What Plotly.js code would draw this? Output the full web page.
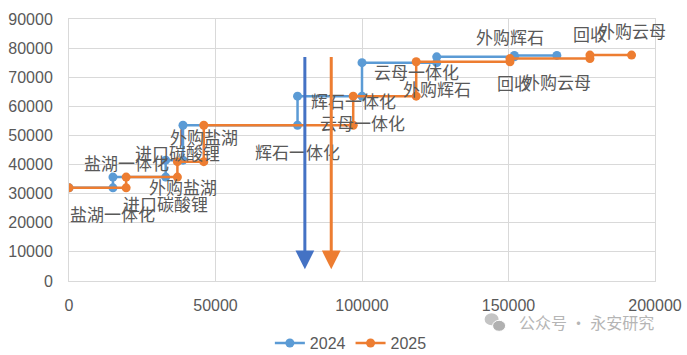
<!DOCTYPE html>
<html>
<head>
<meta charset="utf-8">
<script src="https://cdn.plot.ly/plotly-3.0.1.min.js"></script>
<style>html,body{margin:0;padding:0;background:#fff;}#chart{width:687px;height:355px;}</style>
</head>
<body>
<div id="chart"></div>
<script>
// Cost curve steps: category, cumulative capacity at step end, cost level
const categories = ['盐湖一体化','进口碳酸锂','外购盐湖','辉石一体化','云母一体化','外购辉石','回收','外购云母'];
const capEnd2024 = [15000, 33000, 38900, 78000, 100000, 125500, 152000, 166500];
const cost2024   = [32000, 35700, 41500, 53500, 63500, 75000, 77000, 77500];
const capEnd2025 = [19500, 37000, 46000, 97000, 118500, 150500, 177800, 192000];
const cost2025   = [32000, 35700, 41000, 53500, 63500, 75300, 76400, 77600];
// Demand arrows
const demand2024 = 80500;
const demand2025 = 89500;
const demandTop = 77500;
const demandTip = 4000;
const seriesNames = ['2024', '2025'];

function stepXY(ends, costs) {
  const xs = [], ys = [];
  let start = 0;
  for (let i = 0; i < ends.length; i++) {
    xs.push(start, ends[i]);
    ys.push(costs[i], costs[i]);
    start = ends[i];
  }
  return {xs, ys};
}

const BLUE = '#5B9BD5', ORANGE = '#ED7D31';
const s24 = stepXY(capEnd2024, cost2024);
const s25 = stepXY(capEnd2025, cost2025);

const traces = [
  {x: s24.xs, y: s24.ys, name: seriesNames[0], type: 'scatter', mode: 'lines+markers',
   line: {color: BLUE, width: 2.5}, marker: {color: BLUE, size: 9}},
  {x: s25.xs, y: s25.ys, name: seriesNames[1], type: 'scatter', mode: 'lines+markers',
   line: {color: ORANGE, width: 2.5}, marker: {color: ORANGE, size: 9}}
];

const labelFont = {family: 'Noto Sans CJK SC, sans-serif', size: 17, color: '#595959'};
const annotations = [];
categories.forEach((c, i) => {
  annotations.push({x: capEnd2024[i], y: cost2024[i], xref: 'x', yref: 'y', text: c,
    showarrow: false, yshift: -26, font: labelFont});
  annotations.push({x: capEnd2025[i], y: cost2025[i], xref: 'x', yref: 'y', text: c,
    showarrow: false, yshift: 25, font: labelFont});
});
[[demand2024, '#4472C4'], [demand2025, ORANGE]].forEach(([d, col]) => {
  annotations.push({x: d, y: demandTip, ax: d, ay: demandTop, xref: 'x', yref: 'y',
    axref: 'x', ayref: 'y', showarrow: true, arrowhead: 2, arrowsize: 1.25,
    arrowwidth: 3, arrowcolor: col, text: ''});
});
annotations.push({xref: 'paper', yref: 'paper', x: 0.765, y: -0.158, xanchor: 'left', yanchor: 'middle',
  text: '公众号 · 永安研究', showarrow: false,
  font: {family: 'Noto Sans CJK SC, sans-serif', size: 16, color: '#b5b5b5'}});

const layout = {
  width: 687, height: 355,
  margin: {l: 69, r: 32, t: 19, b: 74, autoexpand: false},
  paper_bgcolor: '#fff', plot_bgcolor: '#fff',
  font: {family: 'Liberation Sans, Noto Sans CJK SC, sans-serif', size: 16, color: '#595959'},
  xaxis: {range: [0, 200000], dtick: 50000, tick0: 0, showgrid: true, gridcolor: '#D9D9D9',
    zeroline: false, showline: true, mirror: true, linecolor: '#D9D9D9', ticks: '',
    tickformat: 'd', ticklabelstandoff: 10, tickfont: {size: 16, color: '#595959'}},
  yaxis: {range: [0, 90000], dtick: 10000, tick0: 0, showgrid: true, gridcolor: '#D9D9D9',
    zeroline: false, showline: true, mirror: true, linecolor: '#D9D9D9', ticks: '',
    tickformat: 'd', ticklabelstandoff: 12, tickfont: {size: 16, color: '#595959'}},
  showlegend: true,
  legend: {orientation: 'h', x: 0.481, xanchor: 'center', y: -0.237, yanchor: 'middle',
    font: {size: 16, color: '#595959'}, bgcolor: 'rgba(0,0,0,0)'},
  annotations: annotations,
  shapes: [
    {type: 'circle', xref: 'paper', yref: 'paper', xsizemode: 'pixel', ysizemode: 'pixel',
     xanchor: 0.728, yanchor: -0.15, x0: -11, x1: 3, y0: -5, y1: 7, fillcolor: '#c4c4c4', line: {width: 0}},
    {type: 'circle', xref: 'paper', yref: 'paper', xsizemode: 'pixel', ysizemode: 'pixel',
     xanchor: 0.728, yanchor: -0.15, x0: -3, x1: 10, y0: -11, y1: 0, fillcolor: '#b0b0b0', line: {color: '#fff', width: 1}}
  ]
};

Plotly.newPlot('chart', traces, layout, {displayModeBar: false, staticPlot: true});
</script>
</body>
</html>
